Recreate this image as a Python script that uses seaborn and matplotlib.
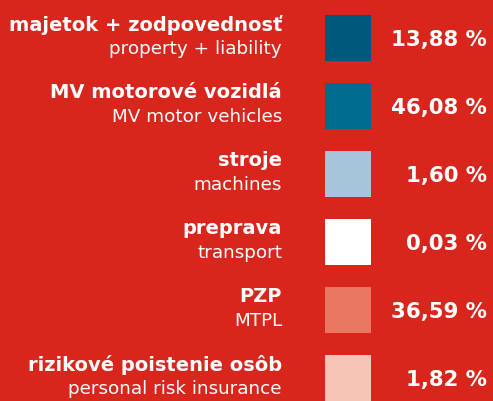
import matplotlib
matplotlib.use('Agg')
import matplotlib.pyplot as plt
import seaborn as sns

# Data
labels_sk = ['majetok + zodpovednosť', 'MV motorové vozidlá', 'stroje', 'preprava', 'PZP',
             'rizikové poistenie osôb']
labels_en = ['property + liability', 'MV motor vehicles', 'machines', 'transport', 'MTPL',
             'personal risk insurance']
shares = [13.88, 46.08, 1.60, 0.03, 36.59, 1.82]
colors = ['#00597c', '#006d90', '#a6c4da', '#ffffff', '#e97762', '#f6c5b6']

bg = '#d9261d'

sns.set_theme(style='white')
plt.rcParams['font.family'] = ['DejaVu Sans']

fig = plt.figure(figsize=(4.93, 4.01), dpi=100)
fig.patch.set_facecolor(bg)
ax = fig.add_axes([0, 0, 1, 1])
ax.set_facecolor(bg)
ax.set_xlim(0, 493)
ax.set_ylim(401, 0)
ax.axis('off')

row_step = 68
first_top = 15
box = 46

tops = [first_top + i * row_step for i in range(len(shares))]
ax.bar([348] * len(shares), [box] * len(shares), bottom=tops, width=box,
       color=colors, linewidth=0)

for top, sk, en, val in zip(tops, labels_sk, labels_en, shares):
    ax.text(282, top + 10, sk, ha='right', va='center', fontsize=14,
            fontweight='bold', color='white')
    ax.text(282, top + 33.5, en, ha='right', va='center', fontsize=13.2,
            color='white')
    ax.text(487, top + 25, f'{val:.2f} %'.replace('.', ','), ha='right',
            va='center', fontsize=15.3, fontweight='bold', color='white')

fig.savefig('out.png', dpi=100, facecolor=bg)
